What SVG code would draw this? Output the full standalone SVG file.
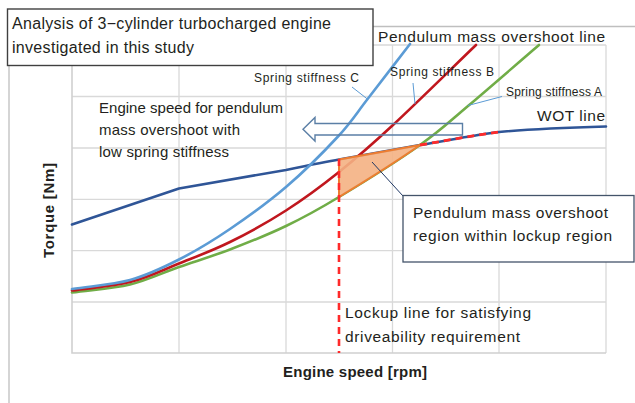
<svg xmlns="http://www.w3.org/2000/svg" width="635" height="403" viewBox="0 0 635 403">
<style>
.grid{stroke:#D9D9D9;stroke-width:1.3;fill:none}
.curve{fill:none;stroke-width:2.6;stroke-linejoin:round;stroke-linecap:round}
.t{font-family:"Liberation Sans",Arial,sans-serif;fill:#231F20}
.lbl{font-size:15.5px}
.sm{font-size:12px}
.ax{font-size:15px;font-weight:bold}
.lead{stroke:#5B9BD5;stroke-width:1;fill:none}
</style>
<rect width="635" height="403" fill="#FFFFFF"/>
<g id="frame">
<path d="M9,66 V403 M373,26.5 H635" stroke="#BFBFBF" stroke-width="1.3" fill="none"/>
</g>
<g id="grid">
<path class="grid" d="M72,45 H606 M72,96.5 H606 M72,148 H606 M72,199.3 H606 M72,250.6 H606 M72,302 H606"/>
<path class="grid" d="M179,45 V353 M286,45 V353 M392.5,45 V353 M499,45 V353 M606,45 V353"/>
<path d="M72,45 V353 H606" stroke="#D0D0D0" stroke-width="1.6" fill="none"/>
</g>
<g id="curves">
<path id="wot" class="curve" stroke="#2F5597" d="M72,224.5 L179,188.5 L286,170 C310,165 330,161 339,159.5 L420,145 C450,140 475,135 499,132 C530,129 570,127.5 606,126.5"/>
<path id="springA" class="curve" stroke="#70AD47" d="M72,292.5 C91.3,289.8 112.2,288.75 130,284.5 C147.8,280.25 162.3,272.8 179,267 C195.7,261.2 212.2,256.3 230,249.5 C247.8,242.7 267.8,234.75 286,226 C304.2,217.25 316.7,210.5 339,197 C361.3,183.5 398.5,160.2 420,145 C441.5,129.8 448.2,122.7 468,106 C487.8,89.3 515.3,65.3 539,45"/>
<path id="springB" class="curve" stroke="#C0171E" d="M72,290.5 C91.3,287.7 112.2,286.5 130,282 C147.8,277.5 162.3,270.2 179,263.5 C195.7,256.8 212.2,250.8 230,242 C247.8,233.2 267.8,222.2 286,210.5 C304.2,198.8 321.2,186.25 339,172 C356.8,157.75 370.2,146.2 393,125 C415.8,103.8 448.3,71.7 476,45"/>
<path id="springC" class="curve" stroke="#5B9BD5" d="M72,289 C91.3,286 112.2,284.9 130,280 C147.8,275.1 162.3,268 179,259.5 C195.7,251 212.2,241.1 230,229 C247.8,216.9 268,202.4 286,187 C304,171.6 324.3,151.3 338,136.5 C351.7,121.75 356,113.9 368,98.5 C380,83.1 396,62.2 410,44"/>
<path id="overshoot-region" d="M339,159.5 L420,145 C398.5,160.2 361.3,183.5 339,197 Z" fill="#F4B183" fill-opacity="0.9" stroke="#ED7D31" stroke-width="2" stroke-linejoin="round"/>
<path id="wot-dash" d="M420,145 C450,140 475,135 499,132" stroke="#FF2A2A" stroke-width="2.8" stroke-dasharray="7,5" fill="none"/>
<path id="lockup" d="M339,159 V353" stroke="#FF2A2A" stroke-width="2.6" stroke-dasharray="7,5" fill="none"/>
</g>
<g id="arrow">
<polygon points="303,129.3 315,117.5 315,123.5 462.5,123.5 462.5,135 315,135 315,141" fill="none" stroke="#5B7FA6" stroke-width="1.4" stroke-linejoin="miter"/>
</g>
<g id="leaders">
<path class="lead" d="M352,87 L368,99.5"/>
<path class="lead" d="M413,83 L415,104"/>
<path class="lead" d="M502,96.5 L468,105.5"/>
<path d="M372,162 L403,196" stroke="#1F3864" stroke-width="1" fill="none"/>
</g>
<g id="title">
<rect x="7.5" y="9" width="365.5" height="56.5" fill="#FFFFFF" stroke="#404040" stroke-width="1.4"/>
<text class="t" font-size="16" x="12" y="29" textLength="319">Analysis of 3−cylinder turbocharged engine</text>
<text class="t" font-size="16" x="12" y="53" textLength="182">investigated in this study</text>
</g>
<g id="labels">
<text class="t lbl" x="378" y="42" textLength="227">Pendulum mass overshoot line</text>
<text class="t lbl" x="537" y="121" textLength="68">WOT line</text>
<text class="t sm" x="254" y="82" textLength="105">Spring stiffness C</text>
<text class="t sm" x="390" y="76" textLength="104">Spring stiffness B</text>
<text class="t sm" x="506" y="96" textLength="96">Spring stiffness A</text>
<text class="t" font-size="15" x="99" y="113" textLength="184">Engine speed for pendulum</text>
<text class="t" font-size="15" x="99" y="135" textLength="141">mass overshoot with</text>
<text class="t" font-size="15" x="99" y="157" textLength="130">low spring stiffness</text>
<text class="t lbl" x="345" y="318" textLength="186">Lockup line for satisfying</text>
<text class="t lbl" x="345" y="342" textLength="175">driveability requirement</text>
</g>
<g id="region-box">
<rect x="403" y="195.5" width="231" height="66.5" fill="#FFFFFF" stroke="#44546A" stroke-width="1.3"/>
<text class="t lbl" x="413" y="218" textLength="195">Pendulum mass overshoot</text>
<text class="t lbl" x="413" y="241" textLength="199">region within lockup region</text>
</g>
<g id="axes">
<text class="t ax" x="283" y="377" textLength="144">Engine speed [rpm]</text>
<text class="t ax" transform="translate(54,258) rotate(-90)" textLength="95">Torque [Nm]</text>
</g>
</svg>
